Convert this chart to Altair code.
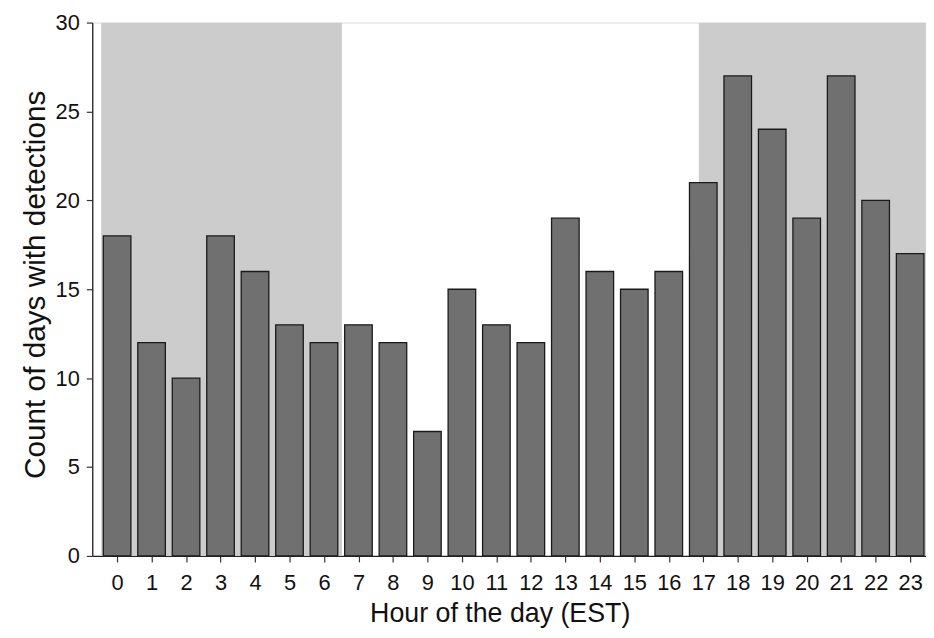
import altair as alt
import pandas as pd

hours = list(range(24))
counts = [18, 12, 10, 18, 16, 13, 12, 13, 12, 7, 15, 13, 12, 19, 16, 15, 16, 21, 27, 24, 19, 27, 20, 17]

# shaded night periods (hour units)
shade_start = [-0.46, 16.87]
shade_end = [6.52, 23.8]
shade_top = [30, 30]

bars_df = pd.DataFrame({"hour": hours, "count": counts})
shade_df = pd.DataFrame({"x0": shade_start, "x1": shade_end, "top": shade_top})

X_DOMAIN = [-0.72, 23.46]
FONT = "Liberation Sans"

xscale = alt.Scale(domain=X_DOMAIN, nice=False, zero=False)
yscale = alt.Scale(domain=[0, 30], nice=False)

x_axis = alt.Axis(values=hours, title="Hour of the day (EST)", labelBaseline="alphabetic",
                  labelPadding=28, labelFlush=False, labelOverlap=False,
                  titleBaseline="alphabetic", titleAnchor="start", titleAlign="center",
                  titleX=411, titleY=66, titleFontSize=27)
y_axis = alt.Axis(values=[0, 5, 10, 15, 20, 25, 30], title="Count of days with detections",
                  labelPadding=7, labelFlush=False, titleFontSize=30,
                  titleAngle=-90, titleBaseline="alphabetic", titleAlign="center",
                  titleAnchor="start", titleX=-48, titleY=264)

shade = alt.Chart(shade_df).mark_rect(color="#cccccc", clip=True).encode(
    x=alt.X("x0:Q", scale=xscale, axis=x_axis),
    x2="x1:Q",
    y=alt.Y("top:Q", scale=yscale, axis=y_axis),
    y2=alt.datum(0),
)

bars = alt.Chart(bars_df).transform_calculate(
    left="datum.hour - 0.4", right="datum.hour + 0.4"
).mark_bar(color="#707070", stroke="#1a1a1a", strokeWidth=1.3, clip=True).encode(
    x=alt.X("left:Q", scale=xscale, axis=x_axis),
    x2="right:Q",
    y=alt.Y("count:Q", scale=yscale, axis=y_axis),
    y2=alt.datum(0),
)

chart = alt.layer(shade, bars).properties(
    width=841,
    height=538,
    padding={"left": 85, "top": 12, "right": 0, "bottom": 72},
    autosize=alt.AutoSizeParams(type="none"),
).configure_view(stroke=None).configure(background="white").configure_axis(
    grid=False, domainColor="#222222", domainWidth=1.3, tickColor="#333333",
    tickWidth=1.2, tickSize=6, labelFontSize=22, labelFont=FONT, labelColor="#111111",
    titleFont=FONT, titleFontWeight="normal", titleColor="#111111",
)

chart.save("out.html", embed_options={"renderer": "svg", "actions": False})
